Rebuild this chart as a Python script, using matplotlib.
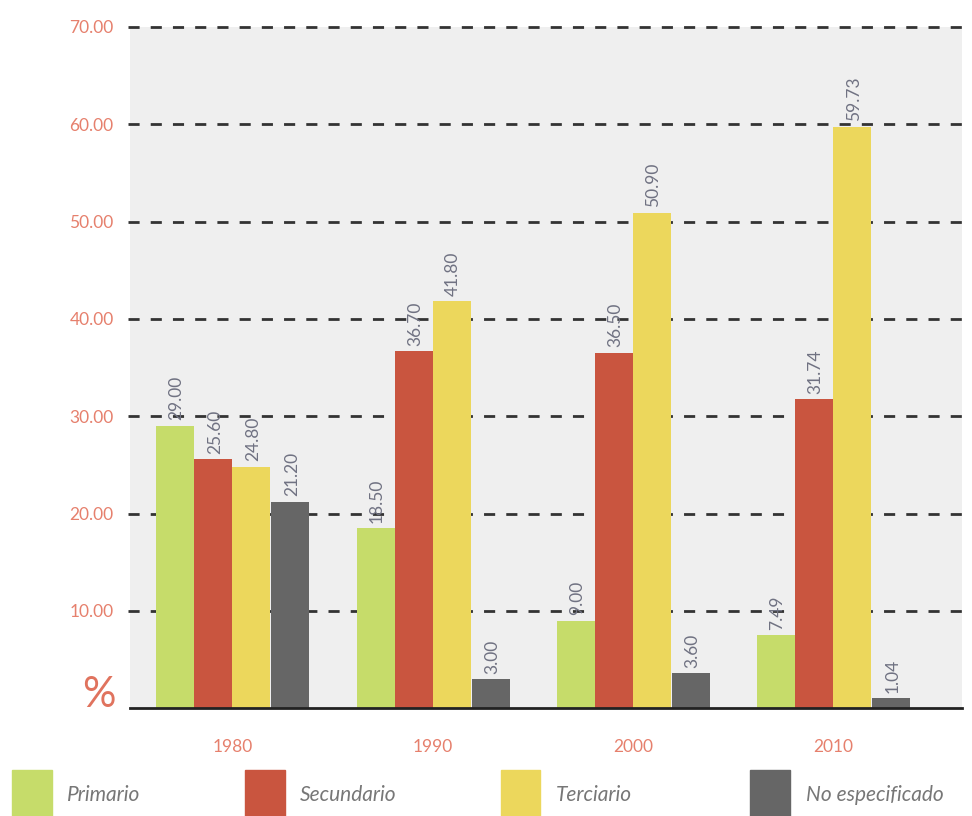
import numpy as np
import matplotlib
matplotlib.use("Agg")
import matplotlib.pyplot as plt
from matplotlib.patches import Rectangle

plt.rcParams["font.family"] = ["Lato", "DejaVu Sans"]

years = ["1980", "1990", "2000", "2010"]
series = ["Primario", "Secundario", "Terciario", "No especificado"]
primario = [29.00, 18.50, 9.00, 7.49]
secundario = [25.60, 36.70, 36.50, 31.74]
terciario = [24.80, 41.80, 50.90, 59.73]
no_especificado = [21.20, 3.00, 3.60, 1.04]
yticks = [10, 20, 30, 40, 50, 60, 70]

colors = ["#c6dc6a", "#c9553f", "#ecd75c", "#666666"]
label_color = "#e6806d"

fig = plt.figure(figsize=(9.72, 8.16), dpi=100)
ax = fig.add_axes([0.134, 0.132, 0.856, 0.835])
ax.set_facecolor("#efefef")

x = np.arange(len(years))
width = 0.19
offsets = [-0.285, -0.095, 0.095, 0.29]
values = [primario, secundario, terciario, no_especificado]

for vals, off, col in zip(values, offsets, colors):
    bars = ax.bar(x + off, vals, width, color=col, zorder=3)
    for b, v in zip(bars, vals):
        ax.annotate(f"{v:.2f}", (b.get_x() + b.get_width() / 2, v),
                    xytext=(1, 4), textcoords="offset points",
                    rotation=90, ha="center", va="bottom",
                    fontsize=12.5, color="#707282", zorder=4)

ax.set_xlim(-0.51, 3.645)
ax.set_ylim(0, 70)
ax.set_yticks(yticks)
ax.set_yticklabels([f"{t:.2f}" for t in yticks])
ax.set_xticks(x)
ax.set_xticklabels(years)
ax.tick_params(length=0, labelsize=12.5, colors=label_color)
ax.tick_params(axis="x", pad=22)
ax.tick_params(axis="y", pad=12)

for t in yticks:
    ax.axhline(t, color="#333333", lw=2, ls=(0, (4, 4)), zorder=2,
               clip_on=False, xmin=-0.003)

for s in ["top", "right", "left"]:
    ax.spines[s].set_visible(False)
ax.spines["bottom"].set_color("#222222")
ax.spines["bottom"].set_linewidth(2)
ax.spines["bottom"].set_zorder(5)

fig.text(0.102, 0.148, "%", fontsize=30, color="#e0735e", ha="center", va="center")

# legend along the bottom
leg_x = [0.012, 0.252, 0.515, 0.772]
for lx, col, name in zip(leg_x, colors, series):
    fig.add_artist(Rectangle((lx, -0.01), 0.041, 0.066, color=col,
                             transform=fig.transFigure))
    fig.text(lx + 0.057, 0.026, name, fontsize=15, style="italic",
             color="#777777", va="center", ha="left")

fig.savefig("out.png", dpi=100)
